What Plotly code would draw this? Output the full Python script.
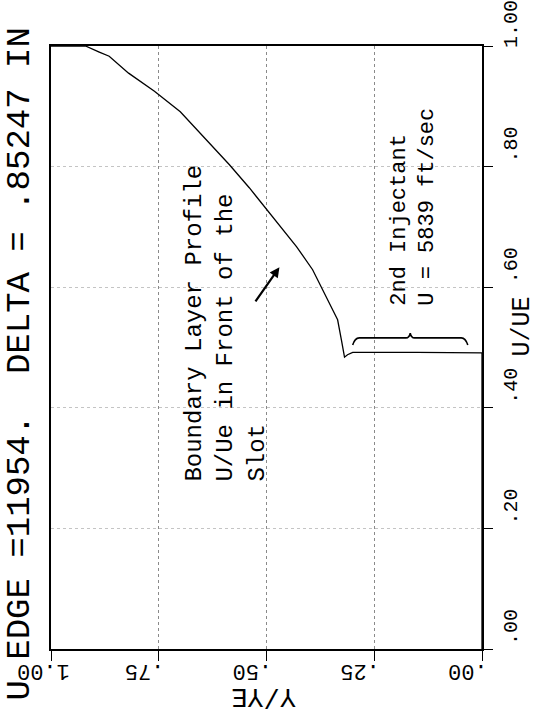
import plotly.graph_objects as go

# ---- data ----
y_ye = [1.0, 0.92, 0.888, 0.865, 0.82, 0.76, 0.70, 0.645, 0.586, 0.54, 0.493,
        0.43, 0.393, 0.358, 0.335, 0.326, 0.319, 0.312, 0.30, 0.15, 0.0, 0.0]
u_ue = [1.0, 1.0, 0.990, 0.983, 0.955, 0.925, 0.891, 0.848, 0.803, 0.765, 0.723,
        0.667, 0.629, 0.579, 0.546, 0.512, 0.484, 0.488, 0.492, 0.492, 0.491, 0.0]

x_tickvals = [0.0, 0.25, 0.50, 0.75, 1.0]
x_ticktext = [".00", ".25", ".50", ".75", "1.00"]
y_tickvals = [0.0, 0.2, 0.4, 0.6, 0.8, 1.0]
y_ticktext = [".00", ".20", ".40", ".60", ".80", "1.00"]

title_text = "U EDGE =11954.  DELTA = .85247 IN"
note1_lines = ["Boundary Layer Profile", "U/Ue in Front of the", "Slot"]
note2_lines = ["2nd Injectant", "U = 5839 ft/sec"]

# brace over the injectant region (Y/YE from, to, U/UE level)
brace_x0, brace_x1, brace_u = 0.033, 0.30, 0.516

FONT = "Liberation Mono"

fig = go.Figure()
fig.add_trace(go.Scatter(x=y_ye, y=u_ue, mode="lines",
                         line=dict(color="black", width=1.3), hoverinfo="skip"))

# curly brace built from the brace parameters
bm = (brace_x0 + brace_x1) / 2
path = (f"M {brace_x1},{brace_u-0.012} Q {brace_x1-0.005},{brace_u} {brace_x1-0.015},{brace_u} "
        f"L {bm+0.01},{brace_u} Q {bm+0.002},{brace_u} {bm},{brace_u+0.008} "
        f"Q {bm-0.002},{brace_u} {bm-0.01},{brace_u} "
        f"L {brace_x0+0.015},{brace_u} Q {brace_x0+0.005},{brace_u} {brace_x0},{brace_u-0.012}")
fig.add_shape(type="path", path=path, xref="x", yref="y",
              line=dict(color="black", width=1.6))

fig.update_xaxes(range=[1.0, 0.0], tickvals=x_tickvals, ticktext=x_ticktext,
                 tickangle=180, ticks="outside", ticklen=10, tickcolor="black",
                 showline=True, linecolor="black", linewidth=1.5, mirror=True,
                 zeroline=False, ticklabelshift=34, ticklabelstandoff=0,
                 automargin=False,
                 showgrid=True, gridcolor="#8a8a8a", griddash="dot", gridwidth=1,
                 tickfont=dict(family=FONT, size=22, color="black"))
fig.update_yaxes(range=[0.0, 1.0], side="right", tickvals=y_tickvals, ticktext=y_ticktext,
                 tickangle=-90, ticks="outside", ticklen=9, tickcolor="black",
                 showline=True, linecolor="black", linewidth=1.5, mirror=True,
                 zeroline=False, ticklabelshift=-19, ticklabelstandoff=0,
                 ticklabeloverflow="allow", automargin=False,
                 showgrid=True, gridcolor="#c4c4c4", griddash="dot", gridwidth=1,
                 tickfont=dict(family=FONT, size=20, color="black"))

annotations = [
    dict(text=title_text, textangle=-90, xref="paper", yref="paper", x=0, y=0,
         xanchor="center", yanchor="bottom", xshift=-32, yshift=-54, showarrow=False,
         font=dict(family=FONT, size=34, color="black")),
    dict(text="Y/YE", textangle=180, xref="x", yref="paper", x=0.5, y=0,
         xanchor="center", yanchor="top", yshift=-30, xshift=-3, showarrow=False,
         font=dict(family=FONT, size=27, color="black")),
    dict(text="U/UE", textangle=-90, xref="paper", yref="y", x=1, y=0.535,
         xanchor="center", yanchor="middle", xshift=40, showarrow=False,
         font=dict(family=FONT, size=25, color="black")),
    dict(text="<br>".join(note1_lines), textangle=-90, align="left",
         xref="x", yref="y", x=0.702, y=0.275, xanchor="left", yanchor="bottom",
         showarrow=False, font=dict(family=FONT, size=24, color="black")),
    dict(text="<br>".join(note2_lines), textangle=-90, align="left",
         xref="x", yref="y", x=0.2256, y=0.5655, xanchor="left", yanchor="bottom",
         showarrow=False, font=dict(family=FONT, size=22, color="black")),
    dict(text="", x=0.470, y=0.633, ax=0.528, ay=0.574, xref="x", yref="y",
         axref="x", ayref="y", showarrow=True, arrowhead=2, arrowwidth=2.2,
         arrowsize=0.9, arrowcolor="black"),
]

fig.update_layout(width=542, height=717, margin=dict(l=51, r=60, t=46, b=68),
                  paper_bgcolor="white", plot_bgcolor="white", showlegend=False,
                  annotations=annotations)

fig.write_html("out.html")
